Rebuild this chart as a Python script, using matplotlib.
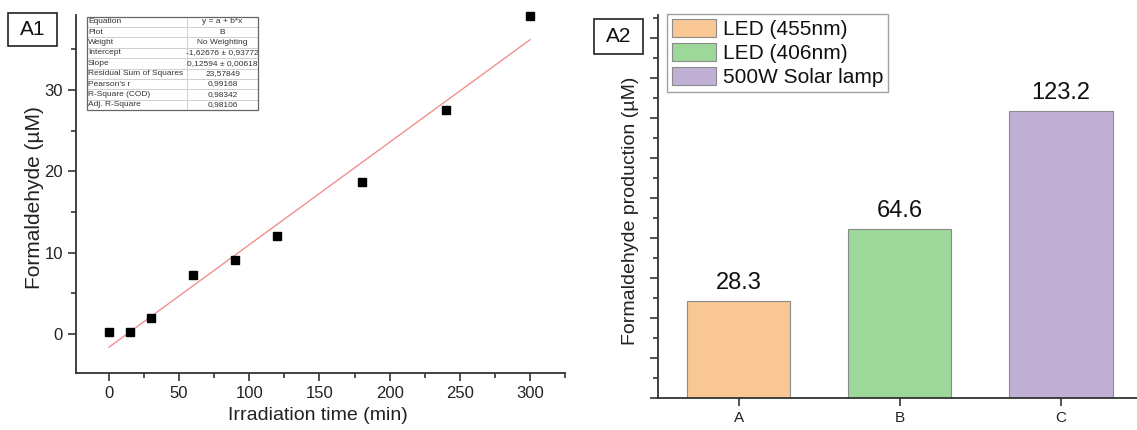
import numpy as np
import matplotlib
matplotlib.use("Agg")
import matplotlib.pyplot as plt
from matplotlib.patches import Patch, Rectangle
from matplotlib.ticker import MultipleLocator, NullFormatter

plt.rcParams['font.family'] = ['Liberation Sans', 'DejaVu Sans']

# --- A1: formaldehyde vs irradiation time ---
time_min = [0, 15, 30, 60, 90, 120, 180, 240, 300]
hcho_um = [0.2, 0.2, 1.9, 7.3, 9.1, 12.0, 18.7, 27.5, 39.1]
fit_intercept = -1.62676
fit_slope = 0.12594

fit_rows = ["Equation", "Plot", "Weight", "Intercept", "Slope",
            "Residual Sum of Squares", "Pearson's r", "R-Square (COD)", "Adj. R-Square"]
fit_vals = ["y = a + b*x", "B", "No Weighting", "-1,62676 \u00b1 0,93772",
            "0,12594 \u00b1 0,00618", "23,57849", "0,99168", "0,98342", "0,98106"]

# --- A2: formaldehyde production per light source ---
sources = ["A", "B", "C"]
production = [28.3, 64.6, 123.2]
source_labels = ["LED (455nm)", "LED (406nm)", "500W Solar lamp"]
bar_colors = ["#f9c794", "#9dd89a", "#c1b0d6"]

W, H = 1137, 430
fig = plt.figure(figsize=(W / 100, H / 100), dpi=100)
spine_col = "#333333"


def px_axes(l, t, r, b):
    return fig.add_axes([l / W, 1 - b / H, (r - l) / W, (b - t) / H])


def style_axes(ax):
    for s in ("top", "right"):
        ax.spines[s].set_visible(False)
    for s in ("left", "bottom"):
        ax.spines[s].set_color(spine_col)
        ax.spines[s].set_linewidth(1.3)
    ax.tick_params(which="both", direction="out", color=spine_col, width=1.2)
    ax.tick_params(which="major", length=6)
    ax.tick_params(which="minor", length=3.5)


def panel_tag(text, l, t, r, b):
    fig.patches.append(Rectangle((l / W, 1 - b / H), (r - l) / W, (b - t) / H,
                                 transform=fig.transFigure, fill=False,
                                 edgecolor="#222222", linewidth=1.2))
    fig.text((l + r) / 2 / W, 1 - (t + b) / 2 / H, text, ha="center", va="center",
             fontsize=15, color="#111111")


# ---------------- A1 ----------------
ax1 = px_axes(76, 15, 565, 373)
style_axes(ax1)
xs = np.array([time_min[0], time_min[-1]])
ax1.plot(xs, fit_intercept + fit_slope * xs, color="#f29090", lw=1.0, zorder=2)
ax1.plot(time_min, hcho_um, ls="none", marker="s", ms=6, color="black",
         zorder=3, clip_on=False)
ax1.set_xlim(-23.5, 325)
ax1.set_ylim(-4.8, 39.2)
ax1.xaxis.set_major_locator(MultipleLocator(50))
ax1.xaxis.set_minor_locator(MultipleLocator(25))
ax1.yaxis.set_major_locator(MultipleLocator(10))
ax1.yaxis.set_minor_locator(MultipleLocator(5))
ax1.tick_params(labelsize=12, labelcolor="#222222")
ax1.set_xlabel("Irradiation time (min)", fontsize=14, color="#222222")
ax1.set_ylabel("Formaldehyde (\u00b5M)", fontsize=15, color="#222222")
ax1.xaxis.set_label_coords(0.495, -0.095)
ax1.yaxis.set_label_coords(-0.066, 0.49)

tbl = ax1.table(cellText=[[a, b] for a, b in zip(fit_rows, fit_vals)],
                colWidths=[0.585, 0.415], cellLoc="left",
                bbox=[0.0225, 0.735, 0.35, 0.26])
tbl.auto_set_font_size(False)
for (r, c), cell in tbl.get_celld().items():
    cell.set_fontsize(6.0)
    cell.set_edgecolor("#cccccc")
    cell.set_linewidth(0.6)
    cell.get_text().set_color("#333333")
    cell.PAD = 0.01
    if c == 1:
        cell.get_text().set_ha("center")
        cell._loc = "center"
ax1.add_patch(Rectangle((0.0225, 0.735), 0.35, 0.26, transform=ax1.transAxes,
                        fill=False, edgecolor="#666666", lw=0.9, zorder=5))

panel_tag("A1", 8, 13, 57, 46)

# ---------------- A2 ----------------
ax2 = px_axes(658, 15, 1137, 398)
style_axes(ax2)
floor = -20
pos = np.arange(len(sources))
ax2.bar(pos, np.array(production) - floor, bottom=floor, width=0.64,
        color=bar_colors, edgecolor="#8a8a8a", linewidth=0.8)
for x, v in zip(pos, production):
    ax2.annotate(f"{v}", (x, v), xytext=(0, 5), textcoords="offset points",
                 ha="center", va="bottom", fontsize=17, color="#111111")
ax2.set_xlim(-0.5, 2.472)
ax2.set_ylim(floor, 171.3)
ax2.set_xticks(pos, sources)
ax2.yaxis.set_major_locator(MultipleLocator(20))
ax2.yaxis.set_minor_locator(MultipleLocator(10))
ax2.yaxis.set_major_formatter(NullFormatter())
ax2.tick_params(axis="x", labelsize=11, labelcolor="#222222")
ax2.set_ylabel("Formaldehyde production (\u00b5M)", fontsize=14, color="#222222")
ax2.yaxis.set_label_coords(-0.04, 0.49)

handles = [Patch(facecolor=c, edgecolor="#8a8a8a", lw=0.8) for c in bar_colors]
leg = ax2.legend(handles, source_labels, loc="upper left",
                 bbox_to_anchor=(667 / W, 1 - 14 / H), bbox_transform=fig.transFigure,
                 fontsize=15, frameon=True, fancybox=False, borderaxespad=0,
                 handlelength=2.15, handleheight=1.0, handletextpad=0.3,
                 labelspacing=0.17, borderpad=0.22)
leg.get_frame().set_edgecolor("#888888")
leg.get_frame().set_linewidth(1.0)
for t in leg.get_texts():
    t.set_color("#111111")

panel_tag("A2", 594, 19, 643, 54)

fig.savefig("out.png", dpi=100)
